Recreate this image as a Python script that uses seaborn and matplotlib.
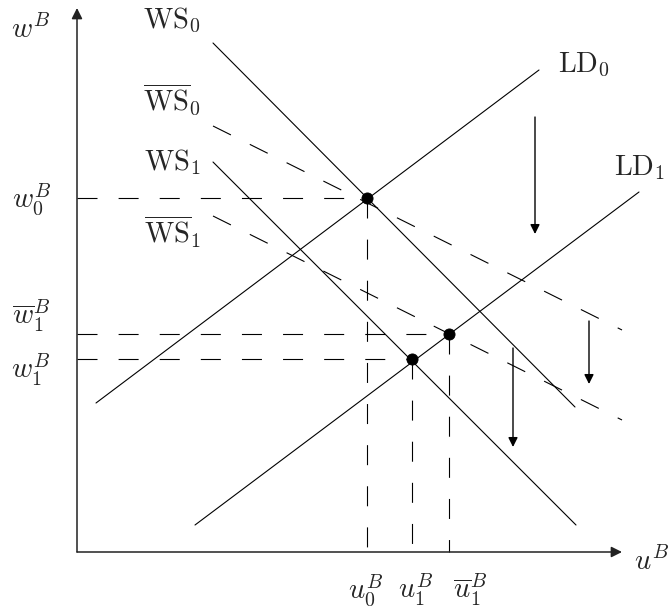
import matplotlib
matplotlib.use("Agg")
import matplotlib.pyplot as plt
import seaborn as sns
import pandas as pd

# curve end points (u^B, w^B)
ws0_u = [2.72, 9.96]
ws0_w = [10.18, 2.90]
wsb0_u = [2.72, 10.90]
wsb0_w = [8.52, 4.44]
ws1_u = [2.72, 9.98]
ws1_w = [7.80, 0.54]
wsb1_u = [2.72, 10.90]
wsb1_w = [6.72, 2.64]
ld0_u = [0.38, 9.24]
ld0_w = [2.98, 9.64]
ld1_u = [2.36, 11.24]
ld1_w = [0.54, 7.20]

# equilibria: E0, E1, E1bar
eq_u = [5.80, 6.70, 7.44]
eq_w = [7.08, 3.86, 4.36]

# downward shift arrows
arrow_u = [9.16, 10.24, 8.72]
arrow_top = [8.70, 4.62, 4.08]
arrow_bottom = [6.36, 3.36, 2.10]

axis_len_u = 10.9
axis_len_w = 10.88

sns.set_theme(style="white")
plt.rcParams['mathtext.fontset'] = 'cm'
plt.rcParams['font.family'] = ['DejaVu Serif']

fig = plt.figure(figsize=(6.7, 6.12), dpi=100)
ax = fig.add_axes([0, 0, 1, 1])
ax.set_xlim(-1.54, 11.86)
ax.set_ylim(-1.2, 11.04)
ax.axis('off')

solid = dict(color='black', linewidth=0.8, estimator=None, sort=False, legend=False)
dashed = dict(solid, dashes=[(18, 19)])

def curve(u, w, style):
    df = pd.DataFrame({'u': u, 'w': w, 'g': 'a'})
    if 'dashes' in style:
        sns.lineplot(data=df, x='u', y='w', style='g', ax=ax, **style)
    else:
        sns.lineplot(data=df, x='u', y='w', ax=ax, **style)

curve(ws0_u, ws0_w, solid)
curve(ws1_u, ws1_w, solid)
curve(ld0_u, ld0_w, solid)
curve(ld1_u, ld1_w, solid)
curve(wsb0_u, wsb0_w, dashed)
curve(wsb1_u, wsb1_w, dashed)

# guide lines from equilibria to axes
for u, w in zip(eq_u, eq_w):
    curve([0, u], [w, w], dashed)
    curve([u, u], [w, 0], dashed)

sns.scatterplot(x=eq_u, y=eq_w, ax=ax, color='black', s=64, edgecolor='black', zorder=5)

# axes with arrows
ax.annotate('', xy=(0, axis_len_w), xytext=(0, 0),
            arrowprops=dict(arrowstyle='-|>', color='#222222', lw=1.1, mutation_scale=16, shrinkA=0, shrinkB=0))
ax.annotate('', xy=(axis_len_u, 0), xytext=(0, 0),
            arrowprops=dict(arrowstyle='-|>', color='#222222', lw=1.1, mutation_scale=16, shrinkA=0, shrinkB=0))

for u, t, b in zip(arrow_u, arrow_top, arrow_bottom):
    ax.annotate('', xy=(u, b), xytext=(u, t),
                arrowprops=dict(arrowstyle='-|>', color='black', lw=1.0, mutation_scale=14, shrinkA=0, shrinkB=0))

fs = 20.5
labels = [
    (-0.92, 10.44, r'$w^B$'),
    (1.90, 10.64, r'$\mathrm{WS}_0$'),
    (1.90, 9.04, r'$\overline{\mathrm{WS}}_0$'),
    (1.90, 7.80, r'$\mathrm{WS}_1$'),
    (1.90, 6.40, r'$\overline{\mathrm{WS}}_1$'),
    (10.14, 9.74, r'$\mathrm{LD}_0$'),
    (11.26, 7.68, r'$\mathrm{LD}_1$'),
    (-0.90, 7.06, r'$w_0^B$'),
    (-0.92, 4.72, r'$\overline{w}_1^B$'),
    (-0.92, 3.64, r'$w_1^B$'),
    (5.78, -0.76, r'$u_0^B$'),
    (6.78, -0.76, r'$u_1^B$'),
    (7.86, -0.76, r'$\overline{u}_1^B$'),
    (11.50, -0.20, r'$u^B$'),
]
for x, y, s in labels:
    ax.text(x, y, s, fontsize=fs, ha='center', va='center')

fig.savefig('out.png', dpi=100)
